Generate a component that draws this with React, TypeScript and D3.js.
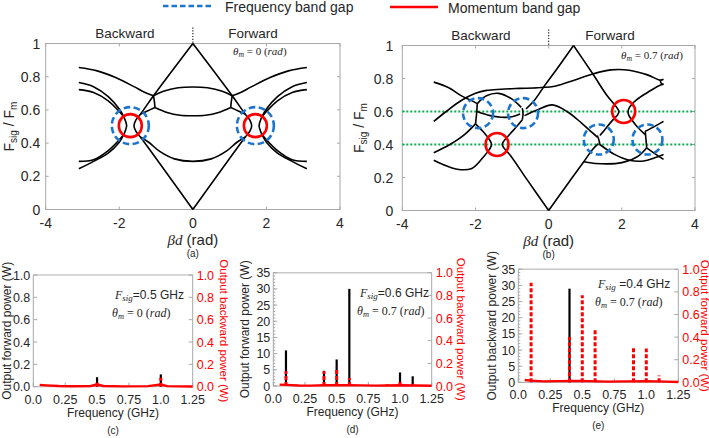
import React from "react";
import * as d3 from "d3";

type Pt = [number, number];

const SANS = "'Liberation Sans', Arial, sans-serif";
const SERIF = "'Liberation Serif', 'DejaVu Serif', serif";
const BLUE = "#1c74cc";
const RED = "#ff0000";
const GREEN = "#00b050";
const FRAME = "#a8a8a8";
const INK = "#262626";

// ---------- band diagrams ----------
const bandXTicks = [-4, -2, 0, 2, 4];
const bandYTicks = [0, 0.2, 0.4, 0.6, 0.8, 1];

// (a) theta_m = 0
const curvesA: Pt[][] = [
  [[-3.1, 0.855], [-2.6, 0.835], [-2.1, 0.795], [-1.6, 0.74], [-1.3, 0.705], [-1.07, 0.685]],
  [[3.1, 0.855], [2.6, 0.835], [2.1, 0.795], [1.6, 0.74], [1.3, 0.705], [1.07, 0.685]],
  [[-1.07, 0.685], [-0.8, 0.712], [-0.4, 0.733], [0, 0.738], [0.4, 0.733], [0.8, 0.712], [1.07, 0.685]],
  [[-1.07, 0.685], [-1.045, 0.65], [-1.03, 0.615]],
  [[1.07, 0.685], [1.045, 0.65], [1.03, 0.615]],
  [[-1.03, 0.615], [-0.7, 0.585], [-0.35, 0.568], [0, 0.565], [0.35, 0.568], [0.7, 0.585], [1.03, 0.615]],
  [[0, 1], [-1.07, 0.685], [-1.42, 0.575], [-1.55, 0.538], [-1.6, 0.505], [-1.55, 0.472], [-1.42, 0.435], [0, 0]],
  [[0, 1], [1.07, 0.685], [1.42, 0.575], [1.55, 0.538], [1.6, 0.505], [1.55, 0.472], [1.42, 0.435], [0, 0]],
  [[-1.03, 0.615], [-1.25, 0.592], [-1.42, 0.575]],
  [[1.03, 0.615], [1.25, 0.592], [1.42, 0.575]],
  [[-1.42, 0.435], [-1.2, 0.405], [-0.9, 0.35], [-0.5, 0.305], [0, 0.29], [0.5, 0.305], [0.9, 0.35], [1.2, 0.405], [1.42, 0.435]],
  [[-3.1, 0.765], [-2.7, 0.74], [-2.3, 0.68], [-2.0, 0.605], [-1.87, 0.555], [-1.82, 0.525], [-1.8, 0.505], [-1.82, 0.485], [-1.87, 0.455], [-2.0, 0.405], [-2.3, 0.34], [-2.7, 0.29], [-3.1, 0.245]],
  [[-3.1, 0.722], [-2.7, 0.705], [-2.3, 0.655], [-2.0, 0.59], [-1.87, 0.555]],
  [[-3.1, 0.29], [-2.7, 0.3], [-2.3, 0.355], [-2.0, 0.42], [-1.87, 0.455]],
  [[3.1, 0.765], [2.7, 0.74], [2.3, 0.68], [2.0, 0.605], [1.87, 0.555], [1.82, 0.525], [1.8, 0.505], [1.82, 0.485], [1.87, 0.455], [2.0, 0.405], [2.3, 0.34], [2.7, 0.29], [3.1, 0.245]],
  [[3.1, 0.722], [2.7, 0.705], [2.3, 0.655], [2.0, 0.59], [1.87, 0.555]],
  [[3.1, 0.29], [2.7, 0.3], [2.3, 0.355], [2.0, 0.42], [1.87, 0.455]],
];
const blueA: Pt[] = [[-1.7, 0.505], [1.7, 0.505]];
const redA: Pt[] = [[-1.7, 0.505], [1.7, 0.505]];

// (b) theta_m = 0.7
const curvesB: Pt[][] = [
  [[0, 0], [-0.6, 0.19], [-1.05, 0.335], [-1.22, 0.378], [-1.27, 0.4], [-1.22, 0.422], [-1.05, 0.465], [-0.85, 0.515], [-0.72, 0.55]],
  [[0, 0], [0.5, 0.155], [0.96, 0.295], [1.2, 0.37], [1.36, 0.405]],
  [[0.68, 1.0], [0.2, 0.85], [-0.1, 0.76], [-0.4, 0.665], [-0.62, 0.615]],
  [[0.68, 1.0], [1.2, 0.83], [1.6, 0.695], [1.86, 0.625], [1.92, 0.6], [1.88, 0.578], [1.72, 0.54], [1.5, 0.48], [1.4, 0.455]],
  [[2.64, 0.46], [2.45, 0.5], [2.27, 0.55], [2.19, 0.578], [2.17, 0.6], [2.21, 0.625], [2.4, 0.67], [2.7, 0.715], [3.0, 0.755], [3.14, 0.765]],
  [[-3.14, 0.54], [-2.8, 0.6], [-2.4, 0.665], [-2.0, 0.71], [-1.7, 0.728], [-1.3, 0.735], [-0.8, 0.74], [-0.3, 0.744], [0.2, 0.755], [0.7, 0.79], [1.2, 0.827], [1.7, 0.852], [2.2, 0.85], [2.7, 0.822], [3.05, 0.79], [3.14, 0.795]],
  [[3.05, 0.79], [3.08, 0.77], [3.14, 0.765]],
  [[-3.14, 0.778], [-2.73, 0.744], [-2.37, 0.693], [-2.05, 0.66], [-1.95, 0.648]],
  [[-1.95, 0.648], [-1.7, 0.695], [-1.37, 0.71], [-1.0, 0.675], [-0.75, 0.625]],
  [[-1.95, 0.648], [-1.97, 0.585], [-2.0, 0.525]],
  [[-1.96, 0.6], [-1.6, 0.575], [-1.3, 0.565], [-1.0, 0.568], [-0.78, 0.585]],
  [[-2.0, 0.525], [-2.3, 0.46], [-2.7, 0.4], [-3.14, 0.35]],
  [[-2.0, 0.525], [-1.8, 0.48], [-1.62, 0.43], [-1.56, 0.4], [-1.62, 0.37], [-1.8, 0.32], [-2.1, 0.255], [-2.5, 0.25], [-2.9, 0.28], [-3.14, 0.305]],
  [[-0.72, 0.62], [-0.7, 0.585], [-0.72, 0.55]],
  [[-0.66, 0.575], [-0.3, 0.61], [0.1, 0.64], [0.5, 0.6], [0.9, 0.53], [1.2, 0.47], [1.33, 0.445]],
  [[1.33, 0.455], [1.37, 0.43], [1.4, 0.4]],
  [[1.4, 0.4], [1.8, 0.34], [2.2, 0.305], [2.6, 0.3], [2.9, 0.32], [3.14, 0.34]],
  [[0.96, 0.295], [1.27, 0.285], [2.0, 0.29], [2.45, 0.33], [2.68, 0.38]],
  [[2.64, 0.48], [2.66, 0.43], [2.68, 0.38]],
  [[2.64, 0.48], [2.9, 0.51], [3.14, 0.54]],
  [[2.68, 0.38], [2.9, 0.345], [3.14, 0.31]],
];
const blueB: Pt[] = [[-1.93, 0.59], [-0.7, 0.59], [1.37, 0.43], [2.7, 0.43]];
const redB: Pt[] = [[-1.41, 0.4], [2.05, 0.6]];
const greenB = [0.6, 0.4];

// ---------- output spectra ----------
const freqTicks = [0, 0.25, 0.5, 0.75, 1.0, 1.25];
const unitTicks = [0, 0.2, 0.4, 0.6, 0.8, 1.0];
const wattTicks = [0, 5, 10, 15, 20, 25, 30, 35];

// (c) Fsig 0.5 GHz, theta 0  (black: forward, left axis; red: backward, right axis)
const blackC: Pt[] = [[0.5, 0.085], [1.0, 0.11]];
const redC: Pt[] = [[0.5, 0.05], [1.0, 0.08]];
const floorC: Pt[] = [[0.05, 0.016], [0.1, 0.012], [0.2, 0.006], [0.3, 0.004], [0.45, 0.006], [0.5, 0.02], [0.55, 0.006], [0.7, 0.003], [0.9, 0.005], [1.0, 0.02], [1.05, 0.005], [1.25, 0.002]];

// (d) Fsig 0.6 GHz, theta 0.7
const blackD: Pt[] = [[0.1, 11], [0.4, 4.7], [0.5, 8.2], [0.6, 30], [1.0, 4.2], [1.1, 3]];
const redD: Pt[] = [[0.1, 0.13], [0.4, 0.13], [0.5, 0.16], [0.6, 0.07], [0.9, 0.015], [1.0, 0.05], [1.1, 0.02]];
const floorD: Pt[] = [[0.05, 0.012], [0.1, 0.01], [0.2, 0.004], [0.3, 0.003], [0.4, 0.006], [0.6, 0.008], [0.8, 0.003], [1.0, 0.006], [1.25, 0.002]];

// (e) Fsig 0.4 GHz, theta 0.7 (black: backward, left axis; red: forward, right axis)
const blackE: Pt[] = [[0.4, 29]];
const redE: Pt[] = [[0.1, 0.88], [0.4, 0.4], [0.5, 0.77], [0.6, 0.47], [0.9, 0.31], [1.0, 0.3], [1.1, 0.06]];
const floorE: Pt[] = [[0.05, 0.02], [0.1, 0.015], [0.2, 0.008], [0.3, 0.01], [0.45, 0.012], [0.55, 0.01], [0.7, 0.006], [0.85, 0.008], [1.0, 0.01], [1.15, 0.006], [1.25, 0.003]];

function Theta({ x, y, value, anchor = "start", size = 11 }: { x: number; y: number; value: string; anchor?: string; size?: number }) {
  return (
    <text x={x} y={y} fontFamily={SERIF} fontSize={size} fill={INK} textAnchor={anchor}>
      <tspan fontStyle="italic">θ</tspan>
      <tspan fontStyle="italic" fontSize={size * 0.7} dy={2}>m</tspan>
      <tspan dy={-2}>{` = ${value} (`}</tspan>
      <tspan fontStyle="italic">rad</tspan>
      <tspan>)</tspan>
    </text>
  );
}

function BandPanel(props: {
  x0: number; x1: number; y0: number; y1: number;
  curves: Pt[][]; blue: Pt[]; red: Pt[]; blueR: number; redR: number;
  green?: number[]; theta: string; thetaX: number; thetaY: number; tag: string;
  backX: number; fwdX: number; tickGap: number; labelX: number;
}) {
  const { x0, x1, y0, y1, curves, blue, red, blueR, redR, green = [], theta, thetaX, thetaY, tag, backX, fwdX, tickGap, labelX } = props;
  const x = d3.scaleLinear().domain([-4, 4]).range([x0, x1]);
  const y = d3.scaleLinear().domain([0, 1]).range([y0, y1]);
  const line = d3
    .line<Pt>()
    .x((d) => x(d[0]))
    .y((d) => y(d[1]))
    .curve(d3.curveCatmullRom.alpha(0.5));
  const mid = x(0);
  return (
    <g>
      <rect x={x0} y={y1} width={x1 - x0} height={y0 - y1} fill="none" stroke={FRAME} strokeWidth={1} />
      {bandXTicks.map((t) => (
        <g key={"x" + t}>
          <line x1={x(t)} x2={x(t)} y1={y0} y2={y0 - 3} stroke={FRAME} />
          <line x1={x(t)} x2={x(t)} y1={y1} y2={y1 + 3} stroke={FRAME} />
          <text x={x(t)} y={y0 + 18.5} textAnchor="middle" fontFamily={SANS} fontSize={14} fill={INK}>
            {t}
          </text>
        </g>
      ))}
      {bandYTicks.map((t) => (
        <g key={"y" + t}>
          <line x1={x0} x2={x0 + 3} y1={y(t)} y2={y(t)} stroke={FRAME} />
          <line x1={x1} x2={x1 - 3} y1={y(t)} y2={y(t)} stroke={FRAME} />
          <text x={x0 - tickGap} y={y(t) + 5} textAnchor="end" fontFamily={SANS} fontSize={14} fill={INK}>
            {t}
          </text>
        </g>
      ))}
      <text transform={`translate(${labelX},${(y0 + y1) / 2}) rotate(-90)`} textAnchor="middle" fontFamily={SANS} fontSize={14} fill={INK}>
        F<tspan fontSize={10} dy={3}>sig</tspan>
        <tspan dy={-3}> / F</tspan>
        <tspan fontSize={10} dy={3}>m</tspan>
      </text>
      <text x={mid} y={y0 + 35} textAnchor="middle" fontSize={15} fill={INK}>
        <tspan fontFamily={SERIF} fontStyle="italic">βd</tspan>
        <tspan fontFamily={SANS}> (rad)</tspan>
      </text>
      <text x={mid} y={y0 + 47} textAnchor="middle" fontFamily={SANS} fontSize={10} fill={INK}>
        {tag}
      </text>
      <line x1={mid} x2={mid} y1={y1 - 16} y2={y1} stroke="#222" strokeWidth={1.2} strokeDasharray="1.2 1.6" />
      <text x={backX} y={y1 - 6} textAnchor="middle" fontFamily={SANS} fontSize={13.5} fill={INK}>
        Backward
      </text>
      <text x={fwdX} y={y1 - 6} textAnchor="middle" fontFamily={SANS} fontSize={13.5} fill={INK}>
        Forward
      </text>
      {green.map((g) => (
        <line key={"g" + g} x1={x0} x2={x1} y1={y(g)} y2={y(g)} stroke={GREEN} strokeWidth={2} strokeDasharray="2 2" />
      ))}
      {curves.map((c, i) => (
        <path key={"c" + i} d={line(c) || ""} fill="none" stroke="#000" strokeWidth={1.6} />
      ))}
      {blue.map((p, i) => (
        <circle key={"b" + i} cx={x(p[0])} cy={y(p[1])} r={blueR} fill="none" stroke={BLUE} strokeWidth={2.6} strokeDasharray="6.5 3.5" />
      ))}
      {red.map((p, i) => (
        <circle key={"r" + i} cx={x(p[0])} cy={y(p[1])} r={redR} fill="none" stroke={RED} strokeWidth={2.6} />
      ))}
      <Theta x={thetaX} y={thetaY} value={theta} />
    </g>
  );
}

function SpikePanel(props: {
  x0: number; x1: number; y0: number; y1: number;
  leftMax: number; leftTicks: number[]; leftFmt: (v: number) => string; leftMinor?: number[];
  black: Pt[]; red: Pt[]; floor: Pt[];
  leftLabel: string; rightLabel: string; leftLabelX: number; rightLabelX: number;
  fsig: string; theta: string; textX: number; textY: number; tag: string;
}) {
  const p = props;
  const x = d3.scaleLinear().domain([0, 1.25]).range([p.x0, p.x1]);
  const yl = d3.scaleLinear().domain([0, p.leftMax]).range([p.y0, p.y1]);
  const yr = d3.scaleLinear().domain([0, 1]).range([p.y0, p.y1]);
  const floorLine = d3
    .line<Pt>()
    .x((d) => x(d[0]))
    .y((d) => yr(d[1]))
    .curve(d3.curveLinear);
  const midY = (p.y0 + p.y1) / 2;
  const midX = (p.x0 + p.x1) / 2;
  return (
    <g>
      <line x1={p.x0} x2={p.x1} y1={p.y1} y2={p.y1} stroke="#c8c8c8" strokeWidth={1.5} />
      <line x1={p.x0} x2={p.x1} y1={p.y0} y2={p.y0} stroke={FRAME} />
      <line x1={p.x0} x2={p.x0} y1={p.y0} y2={p.y1} stroke={FRAME} />
      <line x1={p.x1} x2={p.x1} y1={p.y0} y2={p.y1} stroke={FRAME} />
      {(p.leftMinor || []).map((t) => (
        <line key={"m" + t} x1={p.x0} x2={p.x0 + 2} y1={yl(t)} y2={yl(t)} stroke={FRAME} />
      ))}
      {p.leftTicks.map((t) => (
        <g key={"l" + t}>
          <line x1={p.x0} x2={p.x0 + 4} y1={yl(t)} y2={yl(t)} stroke={FRAME} />
          <text x={p.x0 - 3} y={yl(t) + 4.5} textAnchor="end" fontFamily={SANS} fontSize={12.5} fill={INK}>
            {p.leftFmt(t)}
          </text>
        </g>
      ))}
      {unitTicks.map((t) => (
        <g key={"r" + t}>
          <line x1={p.x1} x2={p.x1 - 4} y1={yr(t)} y2={yr(t)} stroke={FRAME} />
          <text x={p.x1 + 4} y={yr(t) + 4.5} textAnchor="start" fontFamily={SANS} fontSize={12.5} fill={RED}>
            {t.toFixed(1)}
          </text>
        </g>
      ))}
      {freqTicks.map((t) => (
        <g key={"f" + t}>
          <line x1={x(t)} x2={x(t)} y1={p.y0} y2={p.y0 - 4} stroke={FRAME} />
          <text x={x(t)} y={p.y0 + 17} textAnchor="middle" fontFamily={SANS} fontSize={12.5} fill={INK}>
            {t === 0 || t === 0.5 || t === 1 ? t.toFixed(1) : String(t)}
          </text>
        </g>
      ))}
      <text transform={`translate(${p.leftLabelX},${midY}) rotate(-90)`} textAnchor="middle" fontFamily={SANS} fontSize={12} fill={INK}>
        {p.leftLabel}
      </text>
      <text transform={`translate(${p.rightLabelX},${midY}) rotate(90)`} textAnchor="middle" fontFamily={SANS} fontSize={11.5} fill={RED}>
        {p.rightLabel}
      </text>
      <text x={midX} y={p.y0 + 30} textAnchor="middle" fontFamily={SANS} fontSize={12} fill={INK}>
        Frequency (GHz)
      </text>
      <text x={midX} y={p.y0 + 47} textAnchor="middle" fontFamily={SANS} fontSize={10} fill={INK}>
        {p.tag}
      </text>
      <path d={floorLine(p.floor) || ""} fill="none" stroke={RED} strokeWidth={2.4} />
      {p.black.map((d, i) => (
        <line key={"k" + i} x1={x(d[0])} x2={x(d[0])} y1={yl(0)} y2={yl(d[1])} stroke="#000" strokeWidth={2.2} />
      ))}
      {p.red.map((d, i) => (
        <line key={"d" + i} x1={x(d[0])} x2={x(d[0])} y1={yr(0)} y2={yr(d[1])} stroke={RED} strokeWidth={3} strokeDasharray="4 2" />
      ))}
      <text x={p.textX} y={p.textY} fontSize={12} fill={INK}>
        <tspan fontFamily={SERIF} fontStyle="italic">F</tspan>
        <tspan fontFamily={SERIF} fontStyle="italic" fontSize={9} dy={2}>sig</tspan>
        <tspan fontFamily={SANS} dy={-2}>{p.fsig}</tspan>
      </text>
      <Theta x={p.textX - 3} y={p.textY + 18} value={p.theta} size={12} />
    </g>
  );
}

export default function App() {
  const fmt1 = (v: number) => v.toFixed(1);
  const fmt0 = (v: number) => String(v);
  const minorW = d3.range(0, 36, 1);
  return (
    <svg width={709} height={438} viewBox="0 0 709 438" style={{ display: "block", position: "absolute", left: 0, top: 0, background: "#fff" }}>
      <rect width={709} height={438} fill="#fff" />
      {/* legend */}
      <line x1={163} x2={212} y1={6} y2={6} stroke={BLUE} strokeWidth={2.4} strokeDasharray="5.5 3" />
      <text x={225} y={12} fontFamily={SANS} fontSize={14} fill={INK}>
        Frequency band gap
      </text>
      <line x1={390} x2={438} y1={7} y2={7} stroke={RED} strokeWidth={2.4} />
      <text x={448} y={13} fontFamily={SANS} fontSize={14} fill={INK}>
        Momentum band gap
      </text>

      <BandPanel x0={45.7} x1={340} y0={209.5} y1={43.5} curves={curvesA} blue={blueA} red={redA} blueR={18.5} redR={11.5}
        theta="0" thetaX={233} thetaY={55} tag="(a)" backX={125} fwdX={253} tickGap={5.5} labelX={13.5} />
      <BandPanel x0={402.3} x1={695} y0={210.5} y1={45.5} curves={curvesB} blue={blueB} red={redB} blueR={15} redR={11.5}
        green={greenB} theta="0.7" thetaX={621} thetaY={59} tag="(b)" backX={481} fwdX={610} tickGap={9} labelX={364} />

      <SpikePanel x0={33.3} x1={192.7} y0={386.7} y1={275} leftMax={1} leftTicks={unitTicks} leftFmt={fmt1}
        black={blackC} red={redC} floor={floorC} leftLabel="Output forward power (W)" rightLabel="Output backward power (W)"
        leftLabelX={11} rightLabelX={220} fsig="=0.5 GHz" theta="0" textX={115} textY={299} tag="(c)" />
      <SpikePanel x0={273.3} x1={431.7} y0={386} y1={272.7} leftMax={35} leftTicks={wattTicks} leftFmt={fmt0} leftMinor={minorW}
        black={blackD} red={redD} floor={floorD} leftLabel="Output forward power (W)" rightLabel="Output backward power (W)"
        leftLabelX={249} rightLabelX={457} fsig="=0.6 GHz" theta="0.7" textX={360} textY={297} tag="(d)" />
      <SpikePanel x0={518.3} x1={678.3} y0={382.3} y1={269.3} leftMax={35} leftTicks={wattTicks} leftFmt={fmt0} leftMinor={minorW}
        black={blackE} red={redE} floor={floorE} leftLabel="Output backward power (W)" rightLabel="Output forward power (W)"
        leftLabelX={496} rightLabelX={700.5} fsig=" =0.4 GHz" theta="0.7" textX={598} textY={288} tag="(e)" />
    </svg>
  );
}
